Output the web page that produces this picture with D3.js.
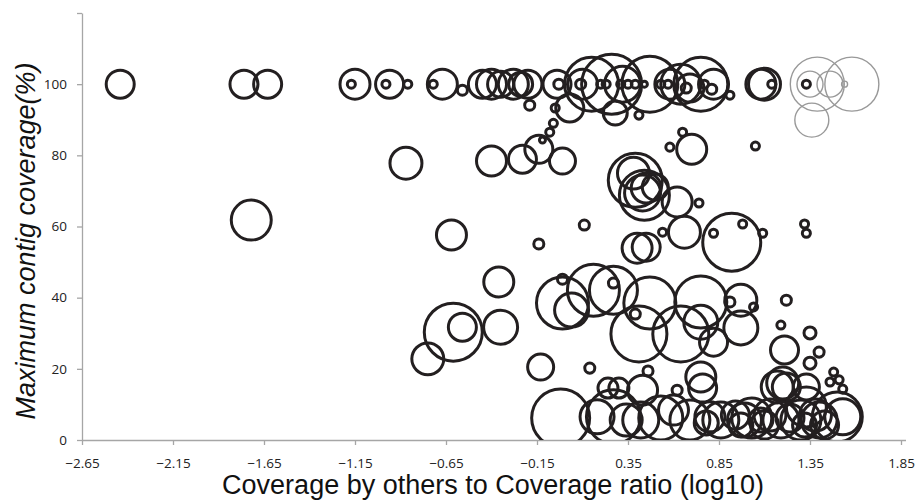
<!DOCTYPE html>
<html>
<head>
<meta charset="utf-8">
<script src="https://cdn.jsdelivr.net/npm/d3@7"></script>
<style>
  body { margin: 0; background: #fff; }
  svg { display: block; }
</style>
</head>
<body>
<script>
// tick values on each axis
const xTicks = [-2.65, -2.15, -1.65, -1.15, -0.65, -0.15, 0.35, 0.85, 1.35, 1.85]
const yTicks = [0, 20, 40, 60, 80, 100, 120]

// [log10 ratio, max contig coverage %, bubble size]
const topRow = [
  [-2.44, 100, 21.8], [-1.76, 100, 21.8], [-1.63, 100, 21.8],
  [-1.15, 100, 25], [-1.17, 100, 1.8], [-0.96, 100, 21.8], [-0.98, 100, 1.8], [-0.86, 100, 1.8],
  [-0.67, 100, 25], [-0.72, 100, 1.8], [-0.56, 98.3, 2.8],
  [-0.45, 100, 21.8], [-0.40, 100, 25], [-0.35, 100, 18.8], [-0.28, 100, 25], [-0.24, 100, 16], [-0.20, 100, 21.8],
  [-0.19, 94.1, 2.8], [-0.04, 100, 21.8], [-0.03, 100, 2.8], [-0.05, 93.3, 1.8], [0.03, 93.3, 21.8],
  [-0.06, 89.0, 1.8], [-0.08, 86.5, 1.8], [-0.12, 84.3, 1],
  [0.10, 100, 25], [0.15, 100, 81], [0.26, 100, 100], [0.47, 100, 87], [0.64, 100, 44.4], [0.75, 100, 81],
  [0.82, 100, 25], [0.69, 98.9, 21.8], [0.32, 100, 36], [0.58, 100, 25],
  [0.09, 100, 2.8], [0.20, 100, 1.8], [0.23, 100, 1.8], [0.31, 100, 1.8], [0.35, 100, 1.8], [0.39, 100, 1.8],
  [0.44, 100, 1], [0.53, 100, 1.8], [0.57, 100, 1.8], [0.67, 98.9, 2.8], [0.77, 100, 1.8], [0.81, 98.6, 2.8],
  [0.91, 96.9, 1.8], [0.28, 91.9, 16], [0.41, 91.3, 1.8],
  [1.08, 100, 25], [1.10, 100, 28.4], [1.14, 100, 1.8], [1.33, 100, 1.8]
]

const midRow = [
  [-0.87, 77.8, 28.4], [-0.40, 78.4, 25], [-0.23, 78.9, 21.8], [-0.14, 81.7, 21.8], [-0.01, 78.4, 18.8],
  [0.65, 86.5, 1.8], [0.58, 82.3, 1.8], [0.70, 81.7, 25], [1.05, 82.6, 1.8],
  [-0.62, 57.6, 25], [-0.14, 55.1, 2.8], [0.11, 60.4, 2.8], [-1.72, 61.8, 44.4],
  [0.39, 73.0, 81], [0.38, 75.0, 28.4], [0.44, 68.8, 69.4], [0.45, 70.8, 25], [0.50, 71.1, 18.8], [0.43, 69.4, 36],
  [0.62, 66.9, 25], [0.74, 66.6, 1.8], [0.54, 58.4, 1.8], [0.66, 58.4, 28.4],
  [0.92, 55.6, 93.4], [0.82, 58.1, 1.8], [0.98, 60.7, 1.8], [1.09, 58.1, 1.8],
  [1.32, 60.7, 1.8], [1.33, 58.1, 1.8], [0.40, 53.9, 25], [0.45, 54.2, 21.8]
]

const lowRow = [
  [-0.36, 44.4, 25], [-0.61, 30.3, 93.4], [-0.56, 31.7, 21.8], [-0.35, 31.7, 32.1], [-0.75, 22.8, 28.4],
  [-0.13, 20.5, 18.8], [0.14, 20.2, 2.8], [-0.01, 38.5, 75.1], [0.04, 36.5, 32.1], [-0.01, 45.2, 2.8],
  [0.16, 42.1, 75.1], [0.27, 44.1, 2.8], [0.27, 42.1, 64], [0.47, 38.5, 75.1], [0.75, 38.8, 75.1],
  [0.91, 38.8, 2.8], [0.97, 39.3, 28.4], [1.04, 37.4, 1.8], [0.39, 35.4, 2.8],
  [0.41, 29.8, 87.1], [0.64, 29.8, 87.1], [0.75, 33.1, 32.1], [0.82, 27.5, 21.8], [0.97, 31.5, 32.1],
  [1.22, 39.3, 2.8], [1.19, 32.3, 1.8], [1.21, 25.3, 21.8], [0.43, 14.0, 25], [0.46, 19.4, 2.8]
]

const bottomRow = [
  [-0.02, 6.2, 93.4], [0.18, 6.5, 32.1], [0.27, 6.5, 81], [0.34, 5.6, 28.4], [0.24, 14.6, 11.1], [0.30, 14.6, 11.1],
  [0.42, 5.6, 36], [0.53, 6.2, 53.8], [0.62, 14.0, 2.8], [0.60, 8.4, 25], [0.69, 5.6, 44.4],
  [0.75, 17.7, 25], [0.76, 14.6, 21.8], [0.80, 6.5, 25], [0.78, 4.8, 16], [0.86, 5.6, 36],
  [0.94, 7.0, 21.8], [0.97, 4.2, 16], [0.99, 5.6, 32.1], [1.03, 6.2, 44.4], [1.08, 5.6, 16], [1.10, 4.2, 21.8],
  [1.17, 14.9, 28.4], [1.22, 14.9, 21.8], [1.20, 16.0, 28.4], [1.13, 7.0, 28.4], [1.19, 5.6, 36], [1.24, 6.2, 21.8],
  [1.30, 5.6, 44.4], [1.32, 4.2, 16], [1.33, 14.9, 18.8], [1.33, 9.3, 44.4], [1.38, 7.0, 28.4], [1.40, 5.6, 36],
  [1.43, 4.2, 21.8], [1.50, 6.5, 69.4], [1.53, 6.5, 36],
  [1.40, 24.7, 2.8], [1.35, 30.1, 4], [1.35, 21.6, 4], [1.48, 19.1, 1.8], [1.46, 16.3, 1.8], [1.51, 16.9, 1.8], [1.53, 14.3, 1.8]
]

// the lighter series on the right
const greyBubbles = [
  [1.39, 100, 81], [1.35, 100, 18.8], [1.46, 100, 18.8], [1.58, 100, 81], [1.36, 89.9, 32.1], [1.54, 100, 1]
]

const width = 915, height = 504
const margin = {top: 13, right: 10, bottom: 64, left: 82}

const svg = d3.select("body").append("svg")
    .attr("width", width)
    .attr("height", height)

const x = d3.scaleLinear().domain([-2.65, 1.85]).range([margin.left, 901])
const y = d3.scaleLinear().domain([0, 120]).range([height - margin.bottom, margin.top])
const r = d3.scaleSqrt().domain([0, 100]).range([0, 30])

svg.append("clipPath").attr("id", "plot")
  .append("rect")
    .attr("x", margin.left).attr("y", margin.top)
    .attr("width", 905 - margin.left).attr("height", y(0) - margin.top)

// axes
const xAxis = svg.append("g")
    .attr("transform", `translate(0,${y(0)})`)
    .call(d3.axisBottom(x).tickValues(xTicks).tickFormat(d3.format(".2f")).tickSize(5).tickSizeOuter(0))
xAxis.select(".domain").attr("d", `M${margin.left},0.5H906`)

const yAxis = svg.append("g")
    .attr("transform", `translate(${margin.left},0)`)
    .call(d3.axisLeft(y).tickValues(yTicks).tickFormat(d => d == 120 ? "" : d).tickSize(5).tickSizeOuter(0))

svg.selectAll(".domain, .tick line").attr("stroke", "#a6a6a6").attr("stroke-width", 1.3)
svg.selectAll(".tick text")
    .attr("fill", "#222")
    .style("font-family", "'Open Sans', sans-serif")
    .style("font-size", "13.5px")
xAxis.selectAll(".tick text").attr("dy", "1.45em")
yAxis.selectAll(".tick text").attr("x", -15)

// bubbles
const plot = svg.append("g").attr("clip-path", "url(#plot)")
const blackBubbles = topRow.concat(midRow, lowRow, bottomRow)

plot.selectAll("circle.main")
  .data(blackBubbles)
  .join("circle")
    .attr("class", "main")
    .attr("cx", d => x(d[0]))
    .attr("cy", d => y(d[1]))
    .attr("r", d => r(d[2]))
    .attr("fill", "none")
    .attr("stroke", "#231f20")
    .attr("stroke-width", 3)

plot.selectAll("circle.grey")
  .data(greyBubbles)
  .join("circle")
    .attr("class", "grey")
    .attr("cx", d => x(d[0]))
    .attr("cy", d => y(d[1]))
    .attr("r", d => r(d[2]))
    .attr("fill", "none")
    .attr("stroke", "#999")
    .attr("stroke-width", 1.4)

// titles
svg.append("text")
    .attr("x", 493)
    .attr("y", 494)
    .attr("text-anchor", "middle")
    .style("font-family", "'Liberation Sans', Arial, sans-serif")
    .style("font-size", "27px")
    .attr("fill", "#111")
    .text("Coverage by others to Coverage ratio (log10)")

svg.append("text")
    .attr("transform", "translate(35,241) rotate(-90)")
    .attr("text-anchor", "middle")
    .style("font-family", "'Liberation Sans', Arial, sans-serif")
    .style("font-size", "27px")
    .style("font-style", "italic")
    .attr("fill", "#111")
    .text("Maximum contig coverage(%)")
</script>
</body>
</html>
